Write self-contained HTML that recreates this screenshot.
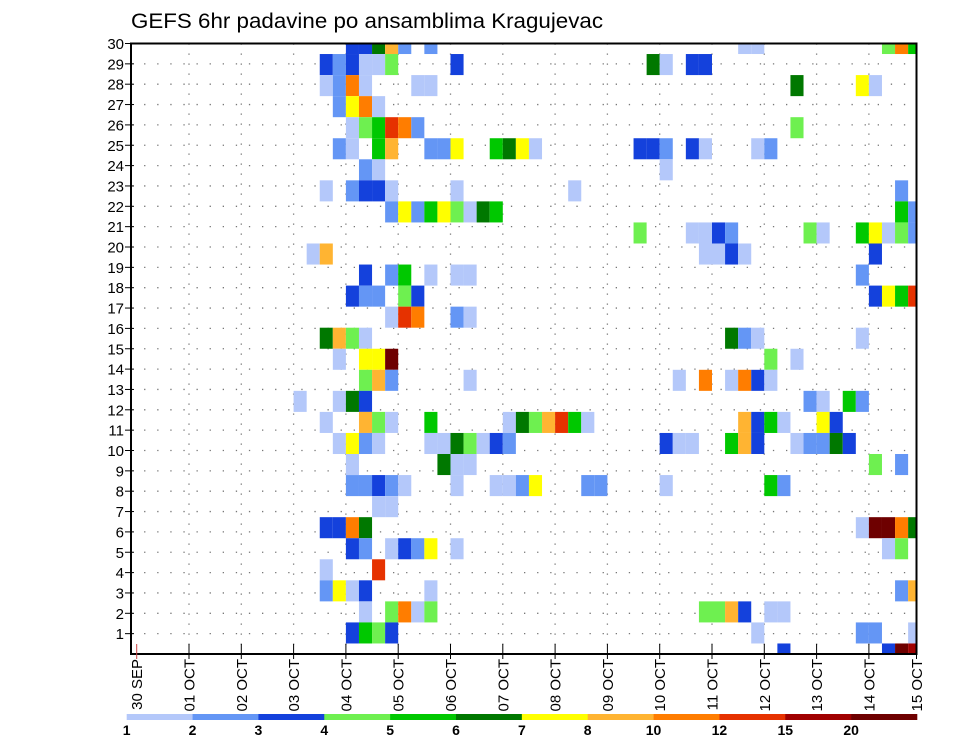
<!DOCTYPE html>
<html><head><meta charset="utf-8"><style>
html,body{margin:0;padding:0;background:#fff}
svg{display:block;font-family:"Liberation Sans",sans-serif}
</style></head><body>
<svg id="chart" width="960" height="742" viewBox="0 0 960 742" xmlns="http://www.w3.org/2000/svg">
<text x="131" y="28" font-size="21" textLength="472" lengthAdjust="spacingAndGlyphs" fill="#000">GEFS 6hr padavine po ansamblima Kragujevac</text>
<g id="grid"></g>
<g id="cells"></g>
<rect x="131" y="43.5" width="785.5" height="610.5" fill="none" stroke="#000" stroke-width="2"/>
<g id="yaxis"></g>
<g id="xaxis"></g>
<g id="cbar"></g>
</svg>
<script>
const xLabels = ["30 SEP","01 OCT","02 OCT","03 OCT","04 OCT","05 OCT","06 OCT","07 OCT","08 OCT","09 OCT","10 OCT","11 OCT","12 OCT","13 OCT","14 OCT","15 OCT"];
const yLabels = [1,2,3,4,5,6,7,8,9,10,11,12,13,14,15,16,17,18,19,20,21,22,23,24,25,26,27,28,29,30];
const legendLabels = ["1","2","3","4","5","6","7","8","10","12","15","20"];
const palette = ["#b4c8fa","#6496f5","#1441dc","#6ef050","#00c800","#007800","#ffff00","#ffb432","#ff7d00","#e63200","#a00000","#6e0000"];
// [row index k (0 bottom .. 29 top), 6h column index, colour class]
const cells = [
[29,16,2],[29,17,2],[29,18,5],[29,19,7],[29,20,1],[29,22,1],[29,46,0],[29,47,0],[29,57,3],[29,58,8],[29,59,4],
[28,14,2],[28,15,1],[28,16,2],[28,17,0],[28,18,0],[28,19,3],[28,24,2],[28,39,5],[28,40,0],[28,42,2],[28,43,2],
[27,14,0],[27,15,1],[27,16,8],[27,17,0],[27,21,0],[27,22,0],[27,50,5],[27,55,6],[27,56,0],
[26,15,1],[26,16,6],[26,17,8],[26,18,0],
[25,16,0],[25,17,3],[25,18,4],[25,19,9],[25,20,8],[25,21,1],[25,50,3],
[24,15,1],[24,16,0],[24,18,4],[24,19,7],[24,22,1],[24,23,1],[24,24,6],[24,27,4],[24,28,5],[24,29,6],[24,30,0],[24,38,2],[24,39,2],[24,40,1],[24,42,2],[24,43,0],[24,47,0],[24,48,1],
[23,17,1],[23,18,0],[23,40,0],
[22,14,0],[22,16,1],[22,17,2],[22,18,2],[22,19,0],[22,24,0],[22,33,0],[22,58,1],
[21,19,1],[21,20,6],[21,21,1],[21,22,4],[21,23,6],[21,24,3],[21,25,0],[21,26,5],[21,27,4],[21,58,4],[21,59,1],
[20,38,3],[20,42,0],[20,43,0],[20,44,2],[20,45,1],[20,51,3],[20,52,0],[20,55,4],[20,56,6],[20,57,0],[20,58,3],[20,59,1],
[19,13,0],[19,14,7],[19,43,0],[19,44,0],[19,45,2],[19,46,0],[19,56,2],
[18,17,2],[18,19,1],[18,20,4],[18,22,0],[18,24,0],[18,25,0],[18,55,1],
[17,16,2],[17,17,1],[17,18,1],[17,20,3],[17,21,2],[17,56,2],[17,57,6],[17,58,4],[17,59,9],
[16,19,0],[16,20,9],[16,21,8],[16,24,1],[16,25,0],
[15,14,5],[15,15,7],[15,16,3],[15,17,0],[15,45,5],[15,46,1],[15,47,0],[15,55,0],
[14,15,0],[14,17,6],[14,18,6],[14,19,11],[14,48,3],[14,50,0],
[13,17,3],[13,18,7],[13,19,1],[13,25,0],[13,41,0],[13,43,8],[13,45,0],[13,46,8],[13,47,2],[13,48,0],
[12,12,0],[12,15,0],[12,16,5],[12,17,2],[12,51,1],[12,52,0],[12,54,4],[12,55,1],
[11,14,0],[11,17,7],[11,18,3],[11,19,0],[11,22,4],[11,28,0],[11,29,5],[11,30,3],[11,31,7],[11,32,9],[11,33,4],[11,34,0],[11,46,7],[11,47,2],[11,48,4],[11,49,0],[11,52,6],[11,53,2],
[10,15,0],[10,16,6],[10,17,1],[10,18,0],[10,22,0],[10,23,0],[10,24,5],[10,25,3],[10,26,0],[10,27,2],[10,28,1],[10,40,2],[10,41,0],[10,42,0],[10,45,4],[10,46,7],[10,47,2],[10,50,0],[10,51,1],[10,52,1],[10,53,5],[10,54,2],
[9,16,0],[9,23,5],[9,24,0],[9,25,0],[9,56,3],[9,58,1],
[8,16,1],[8,17,1],[8,18,2],[8,19,1],[8,20,0],[8,24,0],[8,27,0],[8,28,0],[8,29,1],[8,30,6],[8,34,1],[8,35,1],[8,40,0],[8,48,4],[8,49,1],
[7,18,0],[7,19,0],
[6,14,2],[6,15,2],[6,16,8],[6,17,5],[6,55,0],[6,56,11],[6,57,11],[6,58,8],[6,59,5],
[5,16,2],[5,17,1],[5,19,0],[5,20,2],[5,21,1],[5,22,6],[5,24,0],[5,57,0],[5,58,3],
[4,14,0],[4,18,9],
[3,14,1],[3,15,6],[3,16,0],[3,17,2],[3,22,0],[3,58,1],[3,59,7],
[2,17,0],[2,19,3],[2,20,8],[2,21,0],[2,22,3],[2,43,3],[2,44,3],[2,45,7],[2,46,2],[2,48,0],[2,49,0],
[1,16,2],[1,17,4],[1,18,3],[1,19,2],[1,47,0],[1,55,1],[1,56,1],[1,59,0],
[0,49,2],[0,57,2],[0,58,11],[0,59,10]
];
const NS="http://www.w3.org/2000/svg";
const L=131,R=916.5,T=43.5,B=654,X0=136.7,DAY=52.3,CW=DAY/4;
const rowH=(B-T)/29;
function xCol(c){return X0+c*CW;}
function yRow(k){return T+(29-k)*rowH;}
function yLab(r){return T+(30-r)*(B-T)/30;}
function xDay(d){return d===15?R:X0+d*DAY;}
function mk(tag,attrs,parent){const e=document.createElementNS(NS,tag);for(const a in attrs)e.setAttribute(a,attrs[a]);parent.appendChild(e);return e;}
const grid=document.getElementById('grid');
for(let d=1;d<15;d++){
  const ln=mk('line',{x1:xDay(d),x2:xDay(d),y1:T,y2:B,stroke:'#777','stroke-width':1.3,'stroke-dasharray':'1.3,8.7'},grid);
  
  
}
for(const r of yLabels){
  if(r===30)continue;
  const ln=mk('line',{x1:L,x2:R,y1:yLab(r),y2:yLab(r),stroke:'#777','stroke-width':1.3,'stroke-dasharray':'1.3,11.8'},grid);
  
  
}
const cg=document.getElementById('cells');
for(const [k,c,v] of cells){
  let x1=xCol(c),x2=xCol(c+1),y1=yRow(k)-rowH/2,y2=yRow(k)+rowH/2;
  x1=Math.max(x1,L);x2=Math.min(x2,R);y1=Math.max(y1,T);y2=Math.min(y2,B);
  const rc=mk('rect',{x:x1,y:y1,width:x2-x1,height:y2-y1,fill:palette[v]},cg);
  
  
}
const ya=document.getElementById('yaxis');
for(const r of yLabels){
  const y=yLab(r);
  const tk=mk('line',{x1:L-6,x2:L+3,y1:y,y2:y,stroke:'#000','stroke-width':1},ya);
  
  
  const t=mk('text',{x:L-7,y:y+5.5,'font-size':15,'text-anchor':'end',fill:'#000'},ya);
  t.textContent=r;
  
  
}
const xa=document.getElementById('xaxis');
xLabels.forEach((s,d)=>{
  const x=xDay(d);
  const tk=mk('line',{x1:x,x2:x,y1:B-10,y2:B+5,stroke:d===0?'#c44':'#000','stroke-width':1},xa);
  
  
  const t=mk('text',{x:0,y:0,'font-size':15,'text-anchor':'end',fill:'#000',transform:'translate('+(x+5.5)+',659) rotate(-90)'},xa);
  t.textContent=s;
  
  
});
const cb=document.getElementById('cbar');
const cbL=126.7,cbR=917,cbW=(cbR-cbL)/12;
palette.forEach((col,i)=>{
  const r=mk('rect',{x:cbL+i*cbW,y:714,width:cbW+0.3,height:6,fill:col},cb);
  
  
});
legendLabels.forEach((s,i)=>{
  const t=mk('text',{x:cbL+i*cbW,y:735,'font-size':14,'font-weight':'bold','text-anchor':'middle',fill:'#000'},cb);
  t.textContent=s;
  
  
});
</script>
</body></html>
